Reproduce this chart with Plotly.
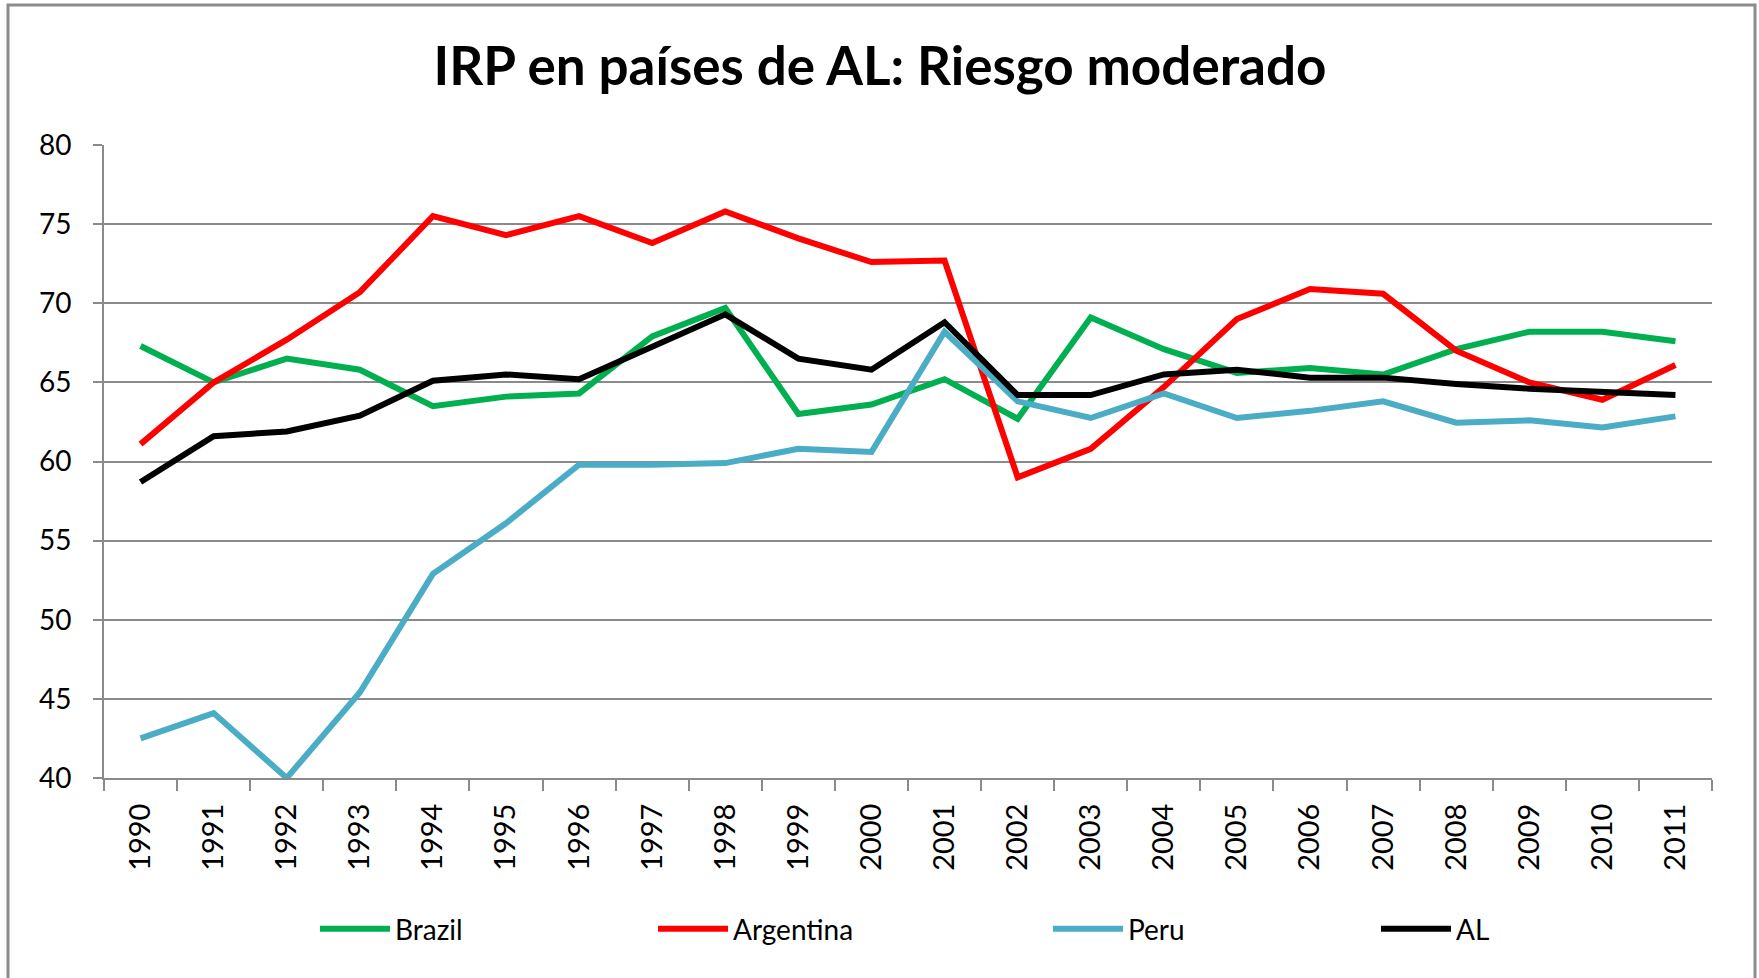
import plotly.graph_objects as go

years = [str(y) for y in range(1990, 2012)]
brazil = [67.3, 65.0, 66.5, 65.8, 63.5, 64.1, 64.3, 67.9, 69.7, 63.0, 63.6, 65.2,
          62.7, 69.1, 67.1, 65.6, 65.9, 65.5, 67.1, 68.2, 68.2, 67.6]
argentina = [61.1, 65.0, 67.7, 70.7, 75.5, 74.3, 75.5, 73.8, 75.8, 74.1, 72.6, 72.7,
             59.0, 60.8, 64.7, 69.0, 70.9, 70.6, 67.0, 65.0, 63.9, 66.1]
peru = [42.5, 44.1, 40.0, 45.4, 52.9, 56.1, 59.8, 59.8, 59.9, 60.8, 60.6, 68.2,
        63.8, 62.75, 64.3, 62.75, 63.2, 63.8, 62.45, 62.6, 62.15, 62.85]
al = [58.7, 61.6, 61.9, 62.9, 65.1, 65.5, 65.2, 67.2, 69.3, 66.5, 65.8, 68.8,
      64.2, 64.2, 65.5, 65.8, 65.3, 65.3, 64.9, 64.6, 64.4, 64.2]

series = [("Brazil", brazil, "#00B050"), ("Argentina", argentina, "#FF0000"),
          ("Peru", peru, "#4BACC6"), ("AL", al, "#000000")]
legend_ids = ["legend", "legend2", "legend3", "legend4"]
legend_px = [315, 653, 1048, 1376]

W, H = 1759, 978
L, R, T, B = 104, 47, 145, 200
FONT = "Lato"
GRID = "#8A8A8A"

fig = go.Figure()
for (name, vals, col), lid in zip(series, legend_ids):
    fig.add_trace(go.Scatter(x=years, y=vals, name=name, mode="lines",
                             line=dict(color=col, width=6), legend=lid))

pw, ph = W - L - R, H - T - B
def px_x(p):
    return (p - L) / pw
def px_y(p):
    return (H - B - p) / ph

layout_legends = {}
for lid, lx in zip(legend_ids, legend_px):
    layout_legends[lid] = dict(
        xref="container", yref="container", x=lx / W, y=1 - 929 / H,
        xanchor="left", yanchor="middle", orientation="h",
        font=dict(family=FONT, size=28, color="#000000"),
        itemwidth=70, bgcolor="rgba(0,0,0,0)")

fig.update_layout(
    width=W, height=H,
    margin=dict(l=L, r=R, t=T, b=B, autoexpand=False),
    paper_bgcolor="#FFFFFF", plot_bgcolor="#FFFFFF",
    title=dict(text="<b>IRP en países de AL: Riesgo moderado</b>",
               x=880 / W, xanchor="center", xref="container",
               y=1 - 66 / H, yanchor="middle", yref="container",
               font=dict(family=FONT, size=53, color="#000000")),
    showlegend=True,
    **layout_legends,
    xaxis=dict(type="category", range=[-0.5, 21.5], showgrid=False, showline=True,
               linecolor=GRID, linewidth=2, ticks="outside", tickson="boundaries",
               ticklen=11, tickwidth=2, tickcolor=GRID, tickangle=-90,
               tickfont=dict(family=FONT, size=29, color="#000000"),
               ticklabelstandoff=12, zeroline=False),
    yaxis=dict(range=[40, 80], dtick=5, showgrid=True, gridcolor=GRID, gridwidth=2,
               showline=True, linecolor=GRID, linewidth=2, ticks="outside",
               ticklen=9, tickwidth=2, tickcolor=GRID,
               tickfont=dict(family=FONT, size=28, color="#000000"),
               ticklabelstandoff=16, zeroline=False),
    shapes=[dict(type="rect", xref="paper", yref="paper",
                 x0=px_x(8), x1=px_x(1755), y0=px_y(995), y1=px_y(5),
                 line=dict(color="#8C8C8C", width=3), fillcolor="rgba(0,0,0,0)",
                 layer="below")],
)

fig.write_html(
    "out.html",
    config={"displayModeBar": False},
    post_script="document.body.style.margin='0px';"
                "document.documentElement.style.overflow='hidden';"
                "document.body.style.overflow='hidden';",
)
